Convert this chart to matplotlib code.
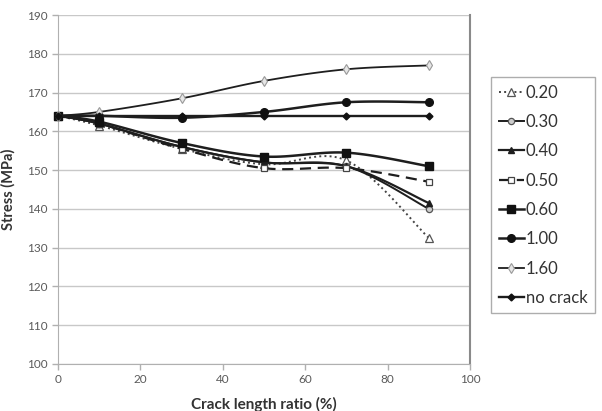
import numpy as np
import matplotlib
matplotlib.use("Agg")
import matplotlib.pyplot as plt

plt.rcParams['font.family'] = ['Lato', 'DejaVu Sans']

crack_ratio = [0, 10, 30, 50, 70, 90]
s_020 = [164, 161.5, 155.5, 151.5, 152.5, 132.5]
s_030 = [164, 162, 156, 152, 151, 140]
s_040 = [164, 162, 156, 152, 151, 141.5]
s_050 = [164, 162, 155.5, 150.5, 150.5, 147]
s_060 = [164, 162.5, 157, 153.5, 154.5, 151]
s_100 = [164, 164, 163.5, 165, 167.5, 167.5]
s_160 = [164, 165, 168.5, 173, 176, 177]
s_none = [164, 164, 164, 164, 164, 164]
labels = ['0.20', '0.30', '0.40', '0.50', '0.60', '1.00', '1.60', 'no crack']
x_ticks = [0, 20, 40, 60, 80, 100]
y_ticks = [100, 110, 120, 130, 140, 150, 160, 170, 180, 190]

NSEG = 20


def smooth(xs, ys):
    P = np.column_stack([xs, ys]).astype(float)
    n = len(P)
    out = [P[0]]
    t = np.linspace(0, 1, NSEG + 1)[1:]
    for i in range(n - 1):
        p0 = P[i - 1] if i > 0 else P[i]
        p1, p2 = P[i], P[i + 1]
        p3 = P[i + 2] if i + 2 < n else P[i + 1]
        c1 = p1 + (p2 - p0) / 6.0
        c2 = p2 - (p3 - p1) / 6.0
        for tt in t:
            b = ((1 - tt) ** 3) * p1 + 3 * (1 - tt) ** 2 * tt * c1 + 3 * (1 - tt) * tt ** 2 * c2 + tt ** 3 * p2
            out.append(b)
    out = np.array(out)
    return out[:, 0], out[:, 1]


fig = plt.figure(figsize=(6.02, 4.11), dpi=100)
ax = fig.add_axes([0.0963, 0.1144, 0.6844, 0.8491])

dark = '#1e1e1e'
styles = [
    dict(ls=':', lw=1.4, marker='^', ms=5.5, mfc='white', mec='#555555', mew=0.9, color='#444444'),
    dict(ls='-', lw=1.4, marker='o', ms=4.5, mfc='#cccccc', mec='#555555', mew=0.9, color=dark),
    dict(ls='-', lw=1.6, marker='^', ms=5, mfc=dark, mec=dark, color=dark),
    dict(ls=(0, (5, 3)), lw=1.6, marker='s', ms=5, mfc='white', mec='#444444', mew=0.9, color=dark),
    dict(ls='-', lw=1.8, marker='s', ms=5.5, mfc='#111111', mec='#111111', color=dark),
    dict(ls='-', lw=1.8, marker='o', ms=5.5, mfc='#111111', mec='#111111', color=dark),
    dict(ls='-', lw=1.3, marker='d', ms=5, mfc='#e6e6e6', mec='#999999', mew=0.8, color=dark),
    dict(ls='-', lw=1.7, marker='D', ms=3.5, mfc='#111111', mec='#111111', color=dark),
]
series = [s_020, s_030, s_040, s_050, s_060, s_100, s_160, s_none]

handles = []
for ys, lab, st in zip(series, labels, styles):
    sx, sy = smooth(crack_ratio, ys)
    h, = ax.plot(sx, sy, label=lab, markevery=list(range(0, len(sx), NSEG)),
                 zorder=3, clip_on=False, **st)
    handles.append(h)

ax.set_xlim(0, 100)
ax.set_ylim(100, 190)
ax.set_xticks(x_ticks)
ax.set_yticks(y_ticks)
ax.grid(axis='y', color='#c8c8c8', lw=1.0)
ax.set_axisbelow(True)
ax.spines['top'].set_visible(False)
ax.spines['left'].set_color('#b0b0b0')
ax.spines['bottom'].set_color('#b0b0b0')
ax.spines['right'].set_color('#8a8a8a')
ax.spines['right'].set_linewidth(1.5)
ax.tick_params(axis='both', colors='#b0b0b0', labelcolor='#5a5a5a', labelsize=8.5, length=4, width=1)

ax.set_ylabel('Stress (MPa)', fontsize=10.5, fontweight='bold', color='#333333', labelpad=8)
ax.set_xlabel('Crack length ratio (%)', fontsize=11, fontweight='bold', color='#333333', labelpad=8)

leg = fig.legend(handles=handles, loc='upper left', bbox_to_anchor=(491 / 602, 1 - 77 / 411),
                 frameon=True, fancybox=False, edgecolor='#999999', fontsize=12,
                 handlelength=1.5, handletextpad=0.15, labelspacing=0.8,
                 borderpad=0.45, borderaxespad=0.0, labelcolor='#333333')
leg.get_frame().set_linewidth(1.0)

fig.savefig('out.png', dpi=100)
